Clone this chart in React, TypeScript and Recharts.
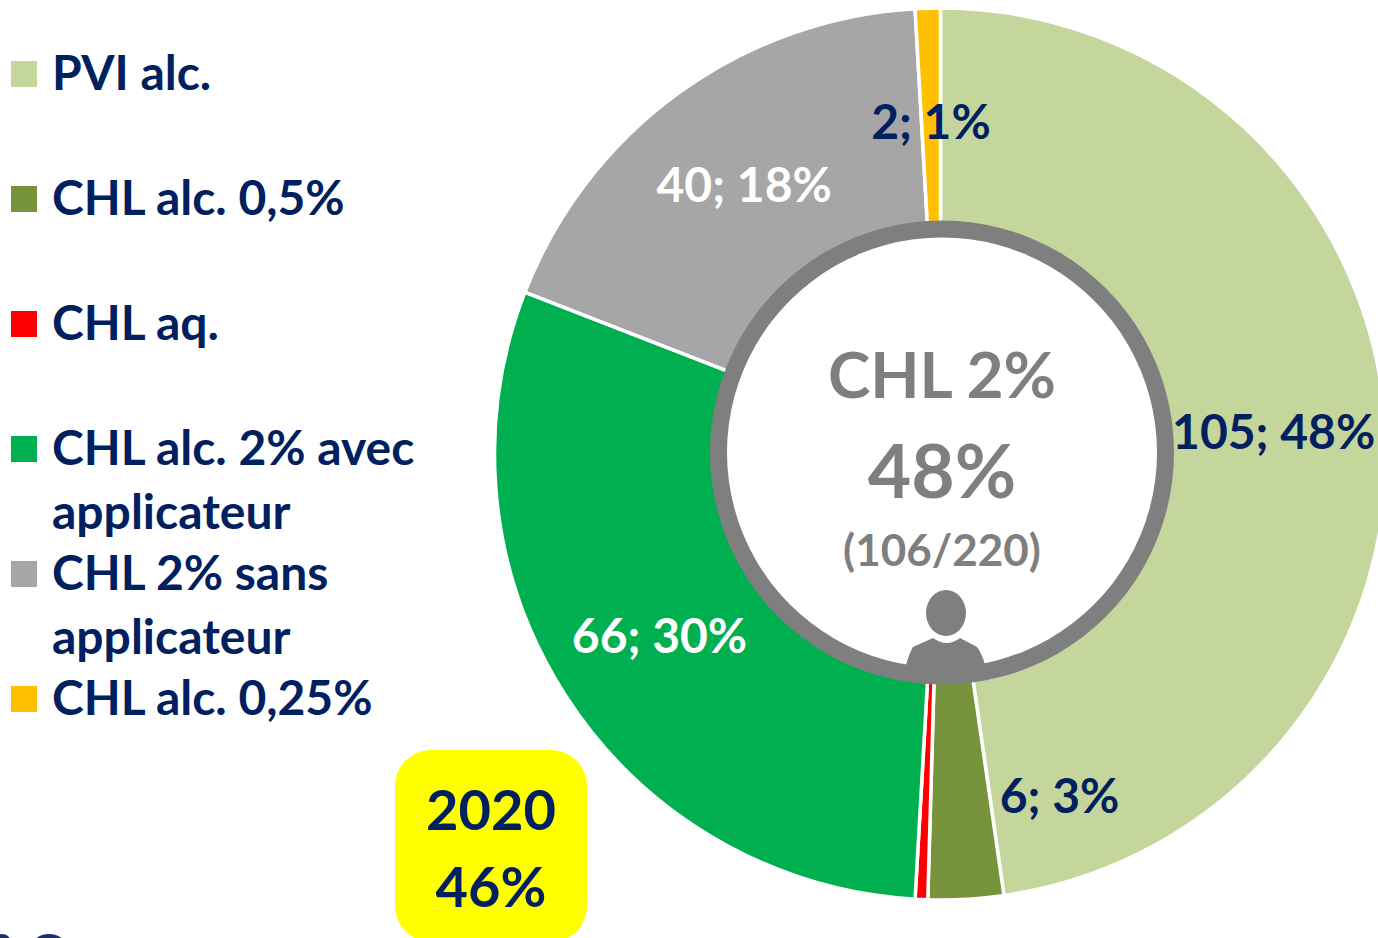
import React from 'react';
import { PieChart, Pie, Cell, Legend } from 'recharts';

const names = [
  'PVI alc.',
  'CHL alc. 0,5%',
  'CHL aq.',
  'CHL alc. 2% avec applicateur',
  'CHL 2% sans applicateur',
  'CHL alc. 0,25%',
];
const counts = [105, 6, 1, 66, 40, 2];
const colors = ['#C4D69C', '#77933C', '#FF0000', '#00B050', '#A6A6A6', '#FFC000'];
const labelColors = ['#002060', '#002060', '#002060', '#FFFFFF', '#FFFFFF', '#002060'];
const ringValues = [1];

const tableData = names.map((name, i) => ({ name, value: counts[i] }));
const ringData = ringValues.map((value) => ({ name: 'CHL 2%', value }));

const navy = '#002060';
const grey = '#7F7F7F';
const font = 'Lato, Carlito, "Open Sans", sans-serif';
const CX = 940.5;
const CY = 454;

const renderLabel = (props: any) => {
  const { midAngle, value, percent, index } = props;
  if (value === 1) return null; // CHL aq. has no label in the original
  const r = 334;
  const rad = (midAngle * Math.PI) / 180;
  // the 6; 3% label was dragged off to the right
  const dx = value === 6 ? 100 : 0;
  const dy = value === 6 ? 7 : 0;
  return (
    <text
      x={CX + r * Math.cos(rad) + dx}
      y={CY - r * Math.sin(rad) + dy}
      textAnchor="middle"
      dominantBaseline="central"
      fill={labelColors[index]}
      fontFamily={font}
      fontWeight={700}
      fontSize={48}
    >
      {`${value}; ${Math.round(percent * 100)}%`}
    </text>
  );
};

const LegendBox = ({ payload }: any) => (
  <div style={{ fontFamily: font, fontWeight: 700, fontSize: 48, color: navy, lineHeight: '64px' }}>
    {(payload || [])
      .filter((item: any) => names.includes(item.value))
      .map((item: any) => (
        <div key={item.value} style={{ position: 'relative', height: 125, paddingLeft: 52, width: 425, boxSizing: 'border-box' }}>
          <span style={{ position: 'absolute', left: 11, top: 21, width: 26, height: 26, background: colors[names.indexOf(item.value)] }} />
          {item.value}
        </div>
      ))}
  </div>
);

export default function App() {
  return (
    <div style={{ position: 'absolute', left: 0, top: 0, width: 1378, height: 938, overflow: 'hidden', background: '#fff' }}>
      <PieChart width={1378} height={938} margin={{ top: 0, right: 0, bottom: 0, left: 0 }}>
        <Legend
          content={<LegendBox />}
          layout="vertical"
          verticalAlign="middle"
          align="center"
          itemSorter={null}
          wrapperStyle={{ left: 0, top: 40, width: 430 }}
        />
        <Pie
          data={tableData}
          dataKey="value"
          nameKey="name"
          cx={CX}
          cy={CY}
          innerRadius={222}
          outerRadius={446}
          startAngle={90}
          endAngle={-270}
          stroke="#fff"
          strokeWidth={3.5}
          label={renderLabel}
          labelLine={false}
          isAnimationActive={false}
        >
          {tableData.map((d, i) => (
            <Cell key={d.name} fill={colors[i]} />
          ))}
        </Pie>
        <Pie
          data={ringData}
          dataKey="value"
          cx={942}
          cy={452.5}
          innerRadius={215}
          outerRadius={232}
          startAngle={90}
          endAngle={-270}
          fill={grey}
          stroke="none"
          legendType="none"
          isAnimationActive={false}
        />
        <g fontFamily={font} fontWeight={700} fill={grey} textAnchor="middle">
          <text x={942} y={398} fontSize={64}>CHL 2%</text>
          <text x={942} y={498} fontSize={75}>48%</text>
          <text x={942} y={566} fontSize={44}>(106/220)</text>
        </g>
        {/* person icon */}
        <g fill={grey}>
          <ellipse cx={946} cy={613} rx={20} ry={23} />
          <path d="M933 638 Q947 648 960 638 L977 647 Q983 654 988 676 L903 677 Q908 655 913 647 Z" />
        </g>
        {/* yellow box */}
        <rect x={395} y={750} width={192} height={192} rx={36} ry={36} fill="#FFFF00" />
        <g fontFamily={font} fontWeight={700} fill={navy} textAnchor="middle" fontSize={56}>
          <text x={491} y={830}>2020</text>
          <text x={491} y={907}>46%</text>
        </g>
        {/* cropped logo at the bottom edge */}
        <ellipse cx={2} cy={945} rx={10} ry={11} fill="#1F2F6B" />
        <ellipse cx={49} cy={948} rx={18} ry={14} fill="#1F2F6B" />
      </PieChart>
    </div>
  );
}
